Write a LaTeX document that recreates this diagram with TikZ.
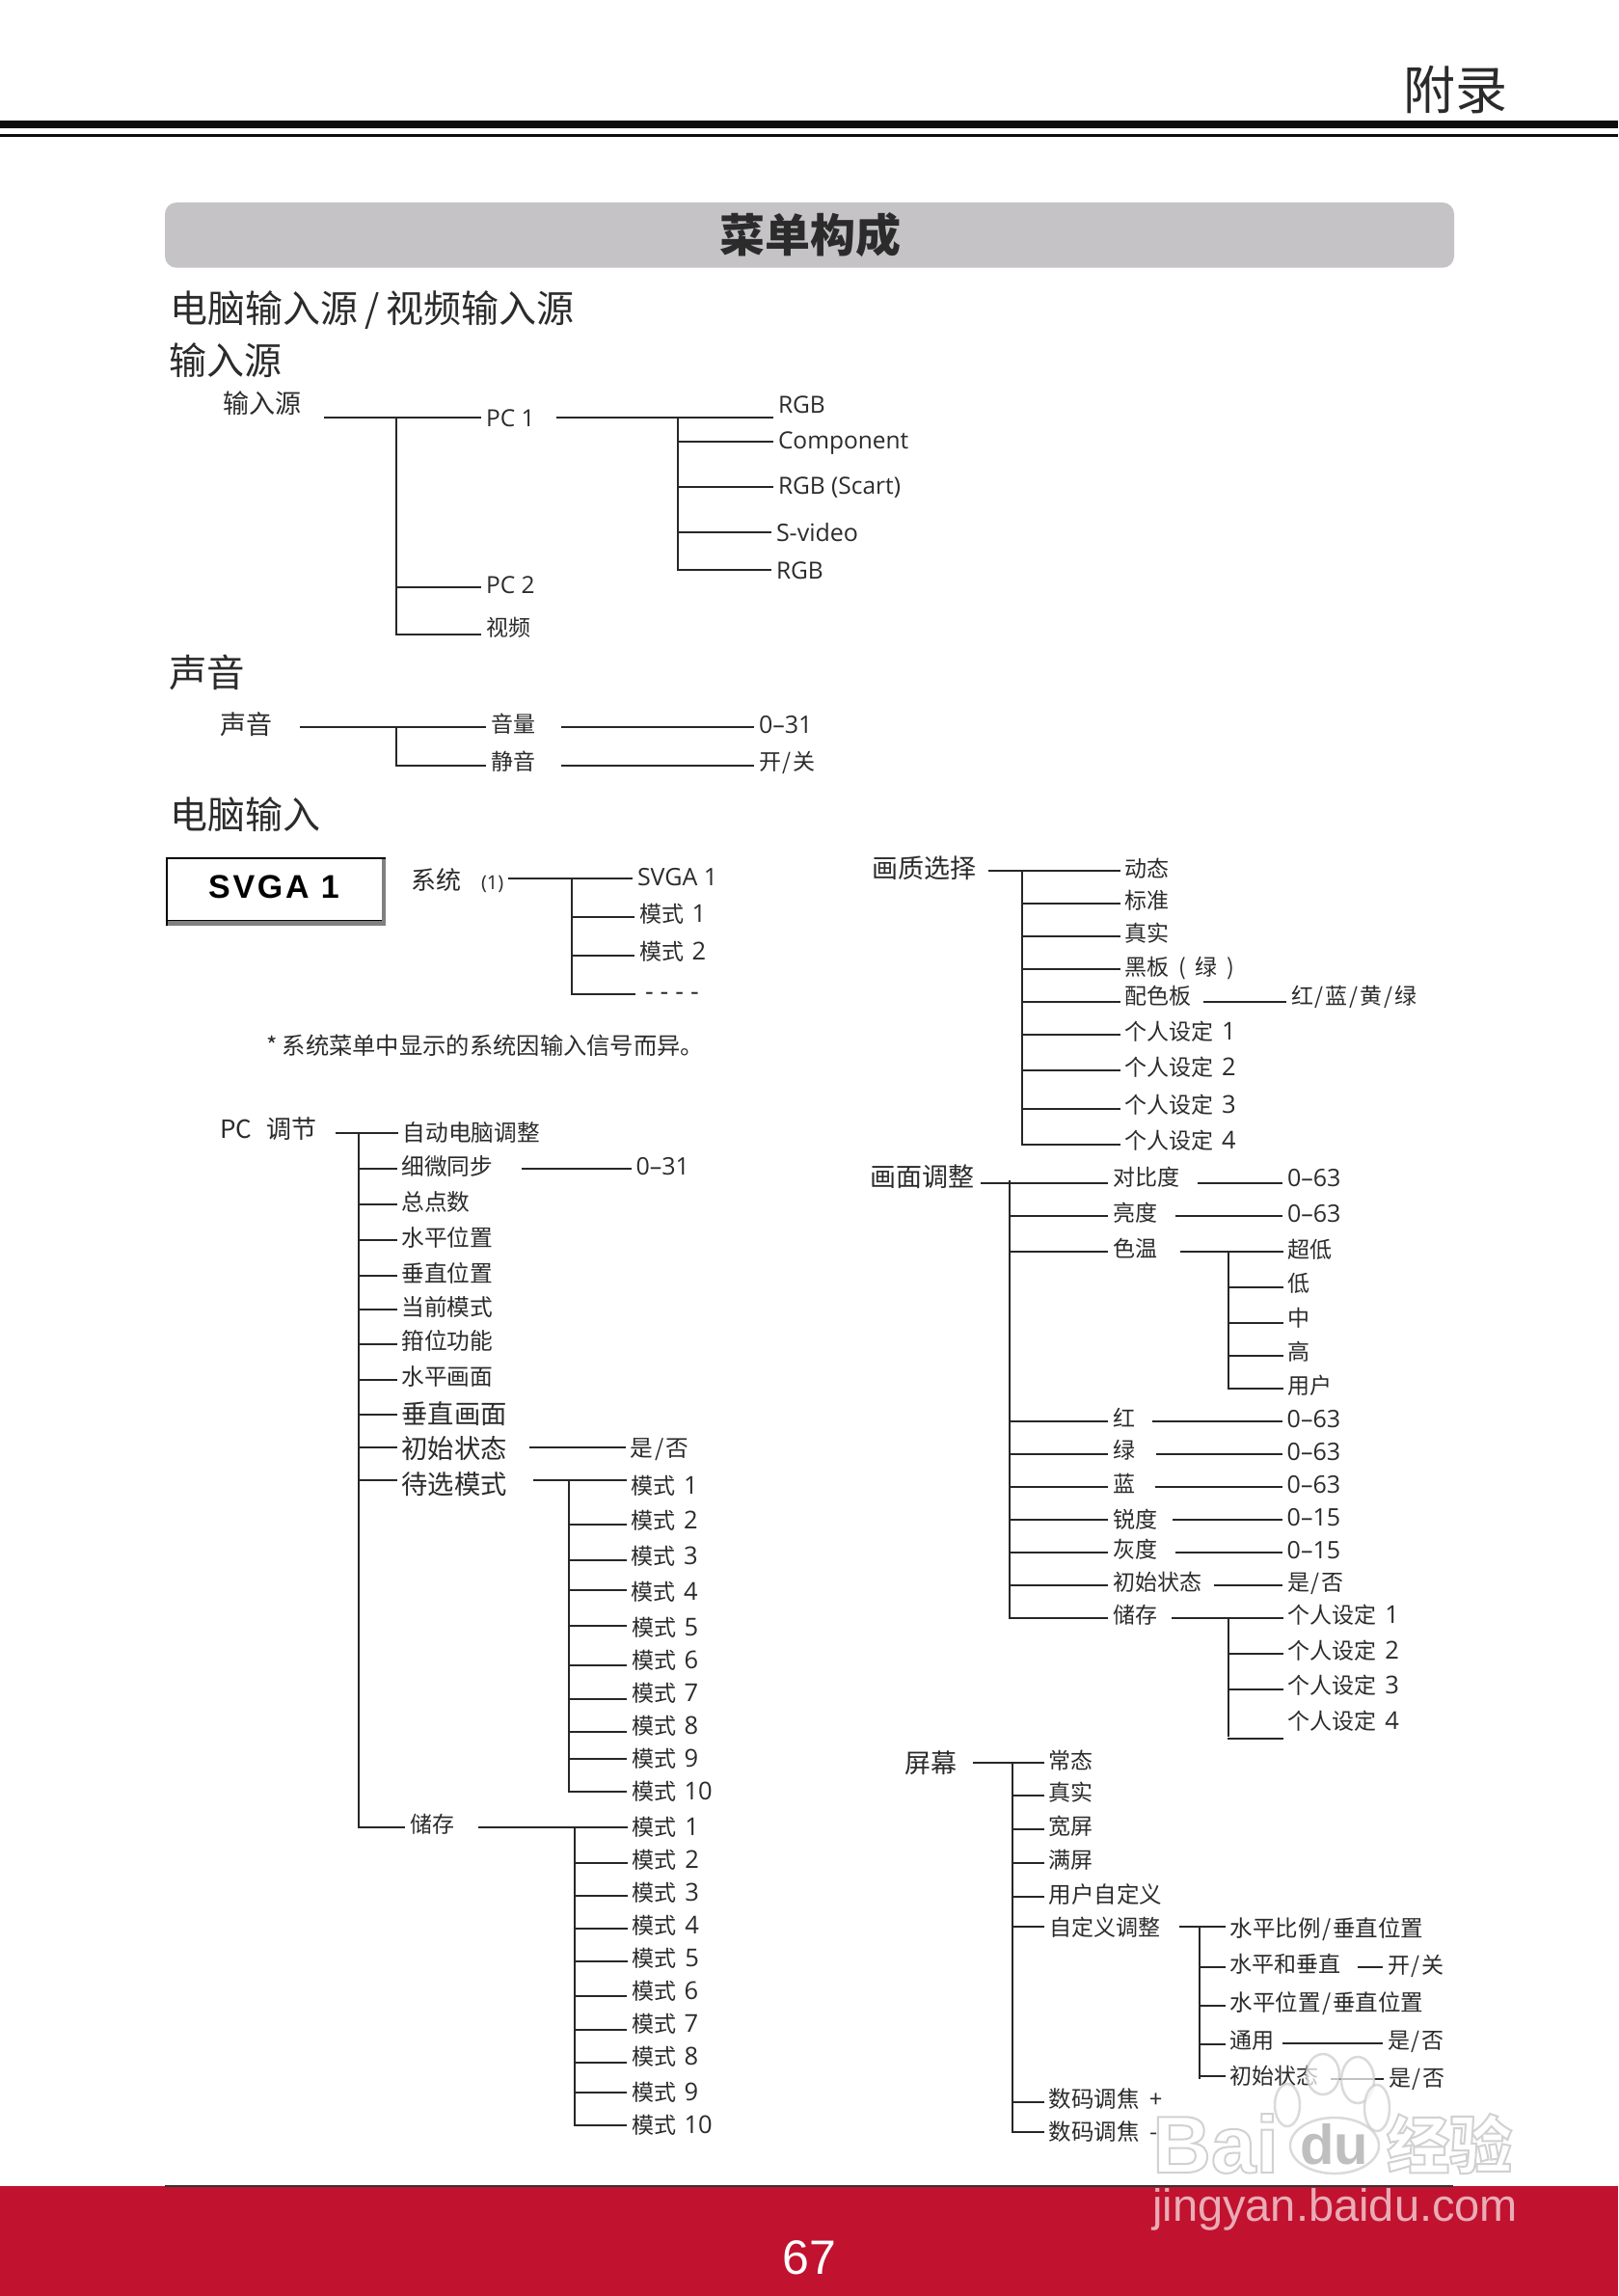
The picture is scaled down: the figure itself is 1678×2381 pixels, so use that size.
\documentclass[tikz,border=0pt]{standalone}
\usepackage{fontspec}
\setmainfont{Noto Sans CJK SC}
\newfontfamily\os{Open Sans}
\newfontfamily\svgaf[LetterSpace=8]{Liberation Sans}
\newfontfamily\ls{Liberation Sans}
\definecolor{ink}{HTML}{2B2B2B}
\definecolor{pagered}{HTML}{C1122F}
\definecolor{bargray}{HTML}{C5C3C6}
\tikzset{
  conn/.style={draw=ink!90!black,line width=2pt,line cap=rect},
  lab/.style={anchor=west,inner sep=0pt,outer sep=0pt,text=ink},
  toe/.style={fill=white,draw=black!20,line width=2.5pt,opacity=.72}
}
% \T[size]{name}{x}{y-centre}{text}
\newcommand\T[5][23]{\node[lab] (#2) at (#3,#4) {\fontsize{#1}{#1}\selectfont\rule[-.12em]{0pt}{1em}\smash{#5}};}
% \Bx{spine}{child}{y}: branch from a spine to a node
\newcommand\Bx[3]{\draw[conn] (#1 |- 0,#3) -- ([xshift=-6pt]#2.west |- 0,#3);}
% \Vx{parent}{child}{gap}{y}: line from a node to a node
\newcommand\Vx[4]{\draw[conn] ([xshift=#3pt]#1.east |- 0,#4) -- ([xshift=-6pt]#2.west |- 0,#4);}
\newcommand\Sp[4]{\coordinate (#1) at (#2,#3); \coordinate (#1e) at (#2,#4); \draw[conn] (#1) -- (#1e);}
\newcommand\dg[1]{\hspace{.15em}{\fontsize{25.5}{25.5}\selectfont\os #1}}
\newcommand\sla{\hspace{.08em}/\hspace{.08em}}
\newcommand\outl{\special{pdf:code 2 Tr 2 w 0.82 G 1 g}}
\newcommand\outr{\special{pdf:code 0 Tr}}
\begin{document}
\begin{tikzpicture}[x=1pt,y=-1pt]
\useasboundingbox (0,0) rectangle (1678,2381);
% header
\fill[black!95] (0,125) rectangle (1678,132.7);
\fill[black!95] (0,139) rectangle (1678,141.7);
\T[54]{hdr}{1455}{93}{附录}
\fill[bargray,rounded corners=12pt] (171,210) rectangle (1508,277.7);
\node[inner sep=0pt,text=ink] (ttl) at (840,244) {\fontsize{47}{47}\selectfont\bfseries 菜单构成};
% footer
\fill[pagered] (0,2267) rectangle (1678,2381);
\draw[line width=1.2pt,black!80] (171,2267) -- (1507,2267);
\node[inner sep=0pt,text=white] (pageno) at (839,2341) {\fontsize{50}{50}\selectfont\ls 67};
% headings
\T[39]{h1}{176.5}{320}{电脑输入源\hspace{.17em}/\hspace{.17em}视频输入源}
\T[39]{h2}{175}{374}{输入源}
\T[39.5]{h3}{175}{697}{声音}
\T[39]{h4}{176.5}{845}{电脑输入}
% ---- input source
\T[27]{src}{231}{418}{输入源}
\T[24.5]{pc1}{504}{433.6}{\os PC 1}
\T[24.5]{pc2}{504}{606.5}{\os PC 2}
\T[23]{vid}{504}{651}{视频}
\T[24.5]{rgba}{807}{419}{\os RGB}
\T[24.5]{comp}{807}{456.5}{\os Component}
\T[24.5]{scart}{807}{503}{\os RGB (Scart)}
\T[25]{svid}{805}{551.5}{\os S-video}
\T[24.5]{rgbb}{805}{591}{\os RGB}
\Sp{sa}{411}{432.6}{657.5}
\Sp{sb}{703}{432.6}{591}
\Vx{src}{pc1}{25}{432.6}
\Vx{pc1}{rgba}{23}{432.6}
\Bx{sa}{pc2}{609}
\Bx{sa}{vid}{657.5}
\Bx{sb}{comp}{458}
\Bx{sb}{scart}{504.5}
\Bx{sb}{svid}{552}
\Bx{sb}{rgbb}{591}
% ---- sound
\T[27]{snd}{228.5}{751}{声音}
\T{vol}{509}{751}{音量}
\T{mute}{509}{790}{静音}
\T[25]{vola}{787}{751}{\os 0–31}
\T{muta}{787}{790}{开\sla 关}
\Sp{sc}{411}{754}{794}
\Vx{snd}{vol}{29}{754}
\Bx{sc}{mute}{794}
\Vx{vol}{vola}{28}{754}
\Vx{mute}{muta}{28}{794}
% ---- SVGA box
\fill[black!50] (172,889) rectangle (400,960);
\fill[white] (174,891) rectangle (396,954);
\draw[black,line width=2pt] (173,960) -- (173,890) -- (400,890);
\draw[black,line width=1pt] (174,954) -- (396,954);
\node[inner sep=0pt,text=black] (svgabox) at (284,920) {\fontsize{34}{34}\selectfont\svgaf\bfseries SVGA 1};
\T[26]{sys}{426}{912.6}{系统}
\T[20]{sysn}{499}{915}{\os (1)}
\T[25]{sva}{661}{908.5}{\os SVGA 1}
\T{m1}{663}{948}{模式 \dg{1}}
\T{m2}{663}{986.6}{模式 \dg{2}}
\T[27]{mz}{669}{1027}{\os - - - -}
\Sp{sd}{593}{911}{1031}
\Vx{sysn}{sva}{6}{911}
\Bx{sd}{m1}{951}
\Bx{sd}{m2}{991}
\draw[conn] (sd |- 0,1030.5) -- ([xshift=-11pt]mz.west |- 0,1030.5);
\T[24.3]{note}{276}{1084}{* 系统菜单中显示的系统因输入信号而异。}
% ---- PC adjust
\T[26]{pcadj}{228}{1171}{PC\hspace{15pt}调节}
\T[23.7]{p1}{417.6}{1174.6}{自动电脑调整}
\T[23.7]{p2}{416.5}{1209}{细微同步}
\T[25]{p2v}{659.6}{1208.6}{\os 0–31}
\T[23.7]{p3}{416.5}{1246}{总点数}
\T[23.7]{p4}{416.5}{1283.6}{水平位置}
\T[23.7]{p5}{416.5}{1320}{垂直位置}
\T[23.7]{p6}{416.5}{1355}{当前模式}
\T[23.7]{p7}{416.5}{1390}{箝位功能}
\T[23.7]{p8}{416.5}{1427}{水平画面}
\T[27.3]{p9}{416.5}{1465.7}{垂直画面}
\T[27.3]{p10}{416.5}{1502}{初始状态}
\T[23.7]{p10v}{653.6}{1501.4}{是\sla 否}
\T[27.3]{p11}{416.5}{1539.6}{待选模式}
\T[23]{p12}{425}{1892}{储存}
\Sp{se}{372}{1175}{1895}
\Vx{pcadj}{p1}{21}{1175}
\Bx{se}{p2}{1211.8}
\Vx{p2}{p2v}{31}{1211.8}
\Bx{se}{p3}{1248.6}
\Bx{se}{p4}{1285.7}
\Bx{se}{p5}{1322.9}
\Bx{se}{p6}{1357.9}
\Bx{se}{p7}{1393.6}
\Bx{se}{p8}{1431}
\Bx{se}{p9}{1466.8}
\Bx{se}{p10}{1501}
\Vx{p10}{p10v}{24}{1501}
\Bx{se}{p11}{1534.6}
\Bx{se}{p12}{1895}
% standby modes
\T{q1}{654.6}{1540.7}{模式 \dg{1}}
\T{q2}{654.6}{1577}{模式 \dg{2}}
\T{q3}{654.6}{1614}{模式 \dg{3}}
\T{q4}{654.6}{1650.7}{模式 \dg{4}}
\T{q5}{655}{1688}{模式 \dg{5}}
\T{q6}{655}{1721.4}{模式 \dg{6}}
\T{q7}{655}{1755.7}{模式 \dg{7}}
\T{q8}{655}{1790}{模式 \dg{8}}
\T{q9}{655}{1823.6}{模式 \dg{9}}
\T{q10}{655}{1857.5}{模式 \dg{10}}
\Sp{sf}{590}{1534.6}{1857.5}
\Vx{p11}{q1}{28}{1534.6}
\Bx{sf}{q2}{1581}
\Bx{sf}{q3}{1618}
\Bx{sf}{q4}{1648.6}
\Bx{sf}{q5}{1685.7}
\Bx{sf}{q6}{1726.8}
\Bx{sf}{q7}{1761.8}
\Bx{sf}{q8}{1795.7}
\Bx{sf}{q9}{1823.6}
\Bx{sf}{q10}{1857.5}
% store modes
\T{r1}{655.7}{1895}{模式 \dg{1}}
\T{r2}{655.7}{1928.6}{模式 \dg{2}}
\T{r3}{655.7}{1962.9}{模式 \dg{3}}
\T{r4}{655.7}{1996.8}{模式 \dg{4}}
\T{r5}{655.7}{2030.7}{模式 \dg{5}}
\T{r6}{655}{2064.6}{模式 \dg{6}}
\T{r7}{655}{2098.6}{模式 \dg{7}}
\T{r8}{655}{2132.5}{模式 \dg{8}}
\T{r9}{655}{2169.6}{模式 \dg{9}}
\T{r10}{655}{2204}{模式 \dg{10}}
\Sp{sg}{596}{1895}{2204}
\Vx{p12}{r1}{26}{1895}
\Bx{sg}{r2}{1931.8}
\Bx{sg}{r3}{1966}
\Bx{sg}{r4}{2000}
\Bx{sg}{r5}{2033.6}
\Bx{sg}{r6}{2069.6}
\Bx{sg}{r7}{2105}
\Bx{sg}{r8}{2138.6}
\Bx{sg}{r9}{2170}
\Bx{sg}{r10}{2204}
% ---- picture select
\T[27]{qs}{904}{900}{画质选择}
\T{a1}{1166.5}{900.7}{动态}
\T{a2}{1166.5}{934}{标准}
\T{a3}{1166.5}{968}{真实}
\T{a4}{1166.5}{1002.7}{黑板\hspace{.42em}(\hspace{.42em}绿\hspace{.42em})}
\T{a5}{1166.5}{1032.3}{配色板}
\T{a5v}{1339}{1033}{红\sla 蓝\sla 黄\sla 绿}
\T{a6}{1166.5}{1070}{个人设定 \dg{1}}
\T{a7}{1166.5}{1107}{个人设定 \dg{2}}
\T{a8}{1166.5}{1146}{个人设定 \dg{3}}
\T{a9}{1166.5}{1183}{个人设定 \dg{4}}
\Sp{sh}{1060}{902.7}{1187}
\Vx{qs}{a1}{14}{902.7}
\Bx{sh}{a2}{936.7}
\Bx{sh}{a3}{970.7}
\Bx{sh}{a4}{1004.7}
\Bx{sh}{a5}{1039}
\Vx{a5}{a5v}{13}{1039}
\Bx{sh}{a6}{1072.7}
\Bx{sh}{a7}{1109.7}
\Bx{sh}{a8}{1150}
\Bx{sh}{a9}{1187}
% ---- picture adjust
\T[27]{ia}{902}{1220.7}{画面调整}
\T{b1}{1154}{1221}{对比度}
\T[25]{b1v}{1335}{1221}{\os 0–63}
\T{b2}{1154}{1258}{亮度}
\T[25]{b2v}{1335}{1258}{\os 0–63}
\T{b3}{1154}{1295}{色温}
\T{t1}{1335.7}{1296}{超低}
\T{t2}{1335.7}{1330.7}{低}
\T{t3}{1335.7}{1367}{中}
\T{t4}{1335.7}{1402}{高}
\T{t5}{1335.7}{1436.7}{用户}
\T{b4}{1154}{1470.7}{红}
\T[25]{b4v}{1334.7}{1471}{\os 0–63}
\T{b5}{1154}{1504}{绿}
\T[25]{b5v}{1334.7}{1505}{\os 0–63}
\T{b6}{1154}{1539}{蓝}
\T[25]{b6v}{1334.7}{1539}{\os 0–63}
\T{b7}{1154}{1575.7}{锐度}
\T[25]{b7v}{1334.7}{1573}{\os 0–15}
\T{b8}{1154}{1606.7}{灰度}
\T[25]{b8v}{1334.7}{1607}{\os 0–15}
\T{b9}{1154}{1641}{初始状态}
\T{b9v}{1335}{1641}{是\sla 否}
\T{b10}{1154}{1674.7}{储存}
\T{u1}{1335.7}{1674.7}{个人设定 \dg{1}}
\T{u2}{1335.7}{1711.7}{个人设定 \dg{2}}
\T{u3}{1335.7}{1748}{个人设定 \dg{3}}
\T{u4}{1335.7}{1785}{个人设定 \dg{4}}
\Sp{si}{1047}{1225}{1678}
\Sp{sj}{1273.7}{1297.7}{1439.7}
\Sp{sk}{1273.7}{1678}{1800}
\Vx{ia}{b1}{8}{1226.7}
\Vx{b1}{b1v}{20}{1226.7}
\Bx{si}{b2}{1260.7}
\Vx{b2}{b2v}{20}{1260.7}
\Bx{si}{b3}{1297.7}
\Vx{b3}{t1}{24.5}{1297.7}
\Bx{sj}{t2}{1335}
\Bx{sj}{t3}{1371.7}
\Bx{sj}{t4}{1406}
\Bx{sj}{t5}{1439.7}
\Bx{si}{b4}{1474}
\Vx{b4}{b4v}{19}{1474}
\Bx{si}{b5}{1508}
\Vx{b5}{b5v}{23}{1508}
\Bx{si}{b6}{1542}
\Vx{b6}{b6v}{22}{1542}
\Bx{si}{b7}{1576}
\Vx{b7}{b7v}{17}{1576}
\Bx{si}{b8}{1610}
\Vx{b8}{b8v}{20}{1610}
\Bx{si}{b9}{1644}
\Vx{b9}{b9v}{14}{1644}
\Bx{si}{b10}{1678}
\Vx{b10}{u1}{16}{1678}
\Bx{sk}{u2}{1715}
\Bx{sk}{u3}{1752}
\Bx{sk}{u4}{1802.7}
% ---- screen
\T[27]{scr}{938}{1828}{屏幕}
\T{c1}{1087.6}{1826}{常态}
\T{c2}{1087.6}{1859}{真实}
\T{c3}{1087.6}{1894}{宽屏}
\T{c4}{1087.6}{1929}{满屏}
\T[23.5]{c5}{1087.6}{1964.5}{用户自定义}
\T{c6}{1088}{1999}{自定义调整}
\T[23.5]{c7}{1087.6}{2177}{数码调焦\hspace{.45em}+}
\T[23.5]{c8}{1087.6}{2210.5}{数码调焦\hspace{.45em}-}
\T[23.5]{d1}{1275.5}{2000}{水平比例\sla 垂直位置}
\T{d2}{1275.5}{2037}{水平和垂直}
\T{d2v}{1439}{2038}{开\sla 关}
\T[23.5]{d3}{1275.5}{2076.6}{水平位置\sla 垂直位置}
\T{d4}{1275.5}{2116}{通用}
\T{d4v}{1439}{2116}{是\sla 否}
\T{d5}{1275.5}{2153}{初始状态}
\T{d5v}{1440}{2155}{是\sla 否}
\Sp{sl}{1050}{1828}{2211}
\Sp{sm}{1244.3}{1998}{2155}
\Vx{scr}{c1}{18}{1828}
\Bx{sl}{c2}{1862}
\Bx{sl}{c3}{1896.7}
\Bx{sl}{c4}{1932}
\Bx{sl}{c5}{1966.8}
\Bx{sl}{c6}{1998}
\Bx{sl}{c7}{2179.5}
\Bx{sl}{c8}{2211}
\Vx{c6}{d1}{21}{1998}
\Bx{sm}{d2}{2040}
\Vx{d2}{d2v}{18}{2040}
\Bx{sm}{d3}{2079.7}
\Bx{sm}{d4}{2119.5}
\Vx{d4}{d4v}{9.5}{2118.7}
\Bx{sm}{d5}{2153}
\Vx{d5}{d5v}{13.5}{2155.8}
% ---- watermark
\draw[toe] (1372,2151) ellipse [x radius=17,y radius=21];
\draw[toe] (1408,2157) ellipse [x radius=17,y radius=24];
\draw[toe] (1335,2183) ellipse [x radius=13,y radius=22];
\draw[toe] (1428,2186) ellipse [x radius=13,y radius=24];
\draw[toe] (1384,2225) ellipse [x radius=46,y radius=29];
\node[inner sep=0pt,anchor=west,text=black!25] (wmdu) at (1348,2224) {\fontsize{58}{58}\selectfont\ls\bfseries du};
\node[inner sep=0pt,anchor=west] (wmbai) at (1195,2223) {\fontsize{84}{84}\selectfont\ls\bfseries\outl Bai\outr};
\node[inner sep=0pt,anchor=west] (wmjy) at (1438,2223) {\fontsize{65}{65}\selectfont\bfseries\outl 经验\outr};
\node[inner sep=0pt,anchor=west,text=pagered!35!white] (wmurl) at (1195,2291) {\fontsize{47}{47}\selectfont\ls jingyan.baidu.com};
\end{tikzpicture}
\end{document}
